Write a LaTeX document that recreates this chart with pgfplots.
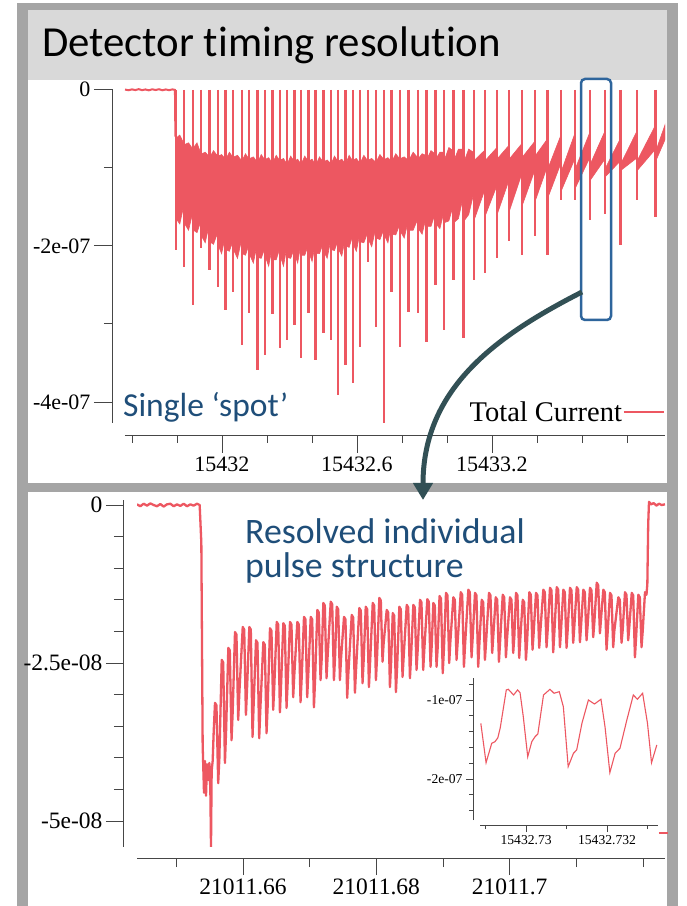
\documentclass[border=0pt]{standalone}
\usepackage{pgfplots}
\pgfplotsset{compat=1.18}
\usepackage{fontspec}
\setmainfont{Liberation Serif}
\newfontfamily\timesf{Liberation Serif}
\newfontfamily\calib[Ligatures=NoCommon]{Carlito}
\usetikzlibrary{arrows.meta}
\definecolor{myred}{RGB}{237,87,97}
\definecolor{tblue}{RGB}{31,78,121}
\definecolor{rblue}{RGB}{46,101,156}
\definecolor{arrowc}{RGB}{50,80,85}
\definecolor{framegray}{RGB}{165,165,165}
\definecolor{titlebg}{RGB}{217,217,217}
\definecolor{axisgray}{RGB}{70,70,70}
\pgfplotsset{
  mapleaxis/.style={
    scale only axis, anchor=south west,
    axis lines=left, axis line style={-, draw=axisgray, line width=0.8pt},
    tick align=outside, tick style={axisgray, line width=0.8pt},
    xtick pos=bottom, ytick pos=left,
    /pgf/number format/assume math mode=true,
  }
}
\begin{document}
\begin{tikzpicture}[x=1pt,y=1pt]
\useasboundingbox (0,0) rectangle (687,906);
\fill[white] (0,0) rectangle (687,906);
% frame
\fill[framegray] (17,0) rectangle (28,903);
\fill[framegray] (667,0) rectangle (678,903);
\fill[framegray] (17,896) rectangle (678,903);
\fill[framegray] (17,414) rectangle (678,423);
\fill[titlebg] (28,826) rectangle (667,896);
\node[anchor=base west, inner sep=0pt, font=\calib\fontsize{42.8}{42.8}\selectfont] at (42,849) {Detector timing resolution};

% ---------------- top panel
\begin{axis}[mapleaxis,
  at={(125pt,483pt)}, width=540pt, height=334pt,
  xmin=56.9, xmax=296.9, ymin=-427, ymax=1,
  axis x line shift=12pt, axis y line shift=13pt,
  xtick={100,160,220}, xticklabels={15432,15432.6,15433.2},
  minor xtick={60,80,120,140,180,200,240,260,280},
  ytick={-400,-200,0}, yticklabels={-4e-07,-2e-07,0},
  minor ytick={-300,-100},
  major tick length=18pt, minor tick length=8pt,
  ticklabel style={font=\timesf\fontsize{22}{22}\selectfont},
  legend style={at={(1,0.033)}, anchor=east, draw=none, fill=none, inner sep=0pt,
    nodes={inner sep=1pt}, font=\timesf\fontsize{28.5}{28.5}\selectfont},
  legend plot pos=right, legend cell align=right,
  legend image code/.code={\draw[myred, line width=1.8pt] (0pt,0pt) -- (40pt,0pt);},
]
\addplot[myred, line width=2pt, forget plot] coordinates {
(56.9,0.3) (58.5,-0.6) (60,0.5) (61.5,-0.4) (63,0.8) (64.5,-0.5) (66,0.4) (67.5,-0.7)
(69,0.6) (70.5,-0.3) (72,0.7) (73.5,-0.6) (75,0.4) (76.5,-0.5) (78,0.5) (79.1,-0.2) (79.3,-60)
};
\addplot[fill=myred, draw=myred, line width=0.6pt] coordinates {
(79.6,-62) (81.25,-58) (82.9,-68) (83.5,-70) (85.15,-68) (86.8,-75) (87.4,-74) (88.9,-68) (90.4,-80)
(91.0,-82) (92.55,-80) (94.1,-85) (94.7,-86) (96.25,-78) (97.8,-84) (98.4,-85) (99.85,-83) (101.3,-88)
(101.9,-88) (103.3,-80) (104.7,-86) (105.3,-86) (106.9,-84) (108.5,-90) (109.1,-90) (110.45,-82) (111.8,-88)
(112.4,-88) (113.95,-86) (115.5,-92) (116.1,-92) (117.45,-83) (118.8,-89) (119.4,-89) (120.75,-87) (122.1,-93)
(122.7,-93) (124.1,-84) (125.5,-90) (126.1,-90) (127.35,-88) (128.6,-94) (129.2,-94) (130.55,-85) (131.9,-91)
(132.5,-91) (133.65,-89) (134.8,-94) (135.4,-94) (136.8,-85) (138.2,-91) (138.8,-91) (140.05,-89) (141.3,-95)
(141.9,-95) (143.35,-86) (144.8,-92) (145.4,-92) (146.75,-90) (148.1,-94) (148.7,-94) (150.0,-85) (151.3,-91)
(151.9,-91) (153.25,-89) (154.6,-94) (155.2,-94) (156.5,-84) (157.8,-90) (158.4,-90) (159.7,-88) (161.0,-93)
(161.6,-93) (163.05,-84) (164.5,-90) (165.1,-90) (166.55,-88) (168.0,-92) (168.6,-92) (170.2,-83) (171.8,-89)
(172.4,-89) (173.75,-87) (175.1,-91) (175.7,-91) (177.25,-82) (178.8,-88) (179.4,-88) (181.0,-86) (182.6,-90)
(183.2,-90) (184.95,-80) (186.7,-86) (187.3,-88) (188.95,-82) (190.6,-84) (191.2,-88) (192.9,-78) (194.6,-82)
(195.2,-88) (196.85,-80) (198.5,-80) (199.1,-88) (200.85,-74) (202.6,-78) (203.2,-90) (205.1,-76) (207.0,-76)
(207.6,-92) (209.65,-76) (211.7,-80) (212.3,-90) (216.6,-78) (217.2,-90) (221.9,-75) (222.5,-88) (227.3,-72)
(227.9,-88) (233.0,-70) (233.6,-86) (238.8,-67) (239.4,-84) (244.4,-64) (245.0,-100) (250.4,-60)
(251.0,-103) (256.6,-58) (257.2,-100) (263.3,-56) (263.9,-94) (269.9,-55) (270.5,-100) (276.8,-64)
(277.4,-94) (284.1,-55) (284.7,-90) (292.4,-47) (293.0,-77) (296.9,-45)
(296.9,-64) (293.0,-90) (292.4,-77) (284.7,-103) (284.1,-88) (277.4,-103) (276.8,-92) (270.5,-111)
(269.9,-90) (263.9,-115) (263.3,-88) (257.2,-125) (256.6,-90) (251.0,-128) (250.4,-96) (245.0,-137)
(244.4,-100) (239.4,-141) (238.8,-105) (233.6,-147) (233.0,-110) (227.9,-154) (227.3,-118) (222.5,-158)
(221.9,-125) (217.2,-160) (216.6,-130) (212.3,-165)
(211.7,-135) (209.65,-160) (207.6,-168) (207.0,-140) (205.1,-165) (203.2,-170)
(202.6,-150) (200.85,-168) (199.1,-170) (198.5,-158) (196.85,-178) (195.2,-172)
(194.6,-160) (192.9,-175) (191.2,-175) (190.6,-165) (188.95,-185) (187.3,-178)
(186.7,-168) (184.95,-180) (183.2,-180) (182.6,-170) (181.0,-190) (179.4,-182)
(178.8,-174) (177.25,-186) (175.7,-185) (175.1,-176) (173.75,-196) (172.4,-188)
(171.8,-180) (170.2,-192) (168.6,-190) (168.0,-182) (166.55,-201) (165.1,-192)
(164.5,-185) (163.05,-196) (161.6,-195) (161.0,-188) (159.7,-207) (158.4,-198)
(157.8,-190) (156.5,-202) (155.2,-200) (154.6,-193) (153.25,-213) (151.9,-205)
(151.3,-195) (150.0,-206) (148.7,-205) (148.1,-196) (146.75,-216) (145.4,-208)
(144.8,-198) (143.35,-210) (141.9,-210) (141.3,-200) (140.05,-220) (138.8,-210)
(138.2,-200) (136.8,-212) (135.4,-212) (134.8,-202) (133.65,-222) (132.5,-212)
(131.9,-205) (130.55,-216) (129.2,-215) (128.6,-205) (127.35,-226) (126.1,-215)
(125.5,-205) (124.1,-218) (122.7,-218) (122.1,-205) (120.75,-226) (119.4,-215)
(118.8,-205) (117.45,-216) (116.1,-215) (115.5,-200) (113.95,-222) (112.4,-212)
(111.8,-200) (110.45,-212) (109.1,-210) (108.5,-195) (106.9,-216) (105.3,-206)
(104.7,-195) (103.3,-207) (101.9,-205) (101.3,-190) (99.85,-210) (98.4,-200)
(97.8,-185) (96.25,-198) (94.7,-195) (94.1,-176) (92.55,-196) (91.0,-188)
(90.4,-170) (88.9,-183) (87.4,-180) (86.8,-160) (85.15,-180) (83.5,-172)
(82.9,-150) (81.25,-172) (79.6,-165)
} --cycle;
\addlegendentry{Total Current}
\addplot[draw=none, mark=none, forget plot,
  error bars/.cd, y dir=minus, y explicit, error mark=none,
  error bar style={draw=myred, line width=2.3pt}]
  table[x=x, y=y, y error minus=e] {
x y e
79.5 0 205.0
83.2 0 226.5
87.1 0 275.6
90.7 0 202.6
94.4 0 230.8
98.1 0 252.6
101.6 0 282.1
105.0 0 259.0
108.8 0 326.9
112.1 0 285.9
115.8 0 359.0
119.1 0 339.7
122.4 0 287.2
125.8 0 330.8
128.9 0 320.5
132.2 0 301.3
135.1 0 343.6
138.5 0 285.9
141.6 0 346.9
145.1 0 311.5
148.4 0 320.5
151.6 0 391.0
154.9 0 352.6
158.1 0 375.6
161.3 0 329.5
164.8 0 220.5
168.3 0 303.8
172.1 0 426.5
175.4 0 259.0
179.1 0 329.5
182.9 0 284.6
187.0 0 285.9
190.9 0 323.1
194.9 0 250.0
198.8 0 307.7
202.9 0 243.6
207.3 0 317.9
212.0 0 243.6
216.9 0 234.6
222.2 0 215.4
227.6 0 193.6
233.3 0 211.5
239.1 0 187.2
244.7 0 211.5
250.7 0 141.0
256.9 0 141.0
263.6 0 166.7
270.2 0 159.0
277.1 0 198.7
284.4 0 141.0
292.7 0 162.8
};
\end{axis}

% ---------------- bottom panel
\begin{axis}[mapleaxis,
  at={(137pt,59pt)}, width=528pt, height=347pt,
  xmin=644.1, xmax=723.3, ymin=-54.1, ymax=0.79,
  axis x line shift=11pt, axis y line shift=14pt,
  xtick={660,680,700}, xticklabels={21011.66,21011.68,21011.7},
  minor xtick={650,670,690,710,720},
  ytick={-50,-25,0}, yticklabels={-5e-08,-2.5e-08,0},
  minor ytick={-45,-40,-35,-30,-20,-15,-10,-5},
  major tick length=17pt, minor tick length=9pt,
  ticklabel style={font=\timesf\fontsize{23.5}{23.5}\selectfont},
]
\addplot[myred, line width=2.3pt, line join=round] table {
644.1 0.1
644.6 -0.2
645.1 0.2
645.6 -0.1
646.1 0.25
646.6 0.0
647.1 -0.2
647.6 0.15
648.1 -0.25
648.6 0.1
649.1 0.2
649.6 -0.2
650.1 0.1
650.6 -0.15
651.1 0.2
651.6 -0.2
652.1 0.1
652.6 -0.1
653.1 0.2
653.5 0.0
653.75 -6.0
653.95 -38.0
654.15 -45.5
654.3 -40.5
654.45 -46.0
654.6 -41.0
654.8 -43.5
654.95 -40.8
655.1 -45.0
655.2 -54.1
655.3 -42.0
655.45 -40.5
655.6 -36.0
655.80 -31.3
656.02 -31.7
656.28 -44.0
656.45 -40.2
656.81 -24.5
657.03 -24.9
657.29 -40.8
657.46 -35.9
657.80 -22.6
658.02 -23.0
658.28 -37.2
658.45 -32.8
658.80 -20.1
659.02 -20.5
659.28 -34.0
659.45 -29.8
659.96 -19.3
660.18 -19.7
660.44 -33.2
660.61 -29.0
660.95 -19.3
661.17 -19.7
661.43 -36.7
661.60 -31.5
661.95 -21.4
662.17 -21.8
662.43 -36.9
662.60 -32.3
663.05 -21.7
663.27 -22.1
663.53 -36.1
663.70 -31.8
664.05 -19.5
664.27 -19.9
664.53 -32.4
664.70 -28.5
665.06 -18.5
665.28 -18.9
665.54 -32.8
665.71 -28.5
666.05 -18.7
666.27 -19.1
666.53 -32.1
666.70 -28.1
667.05 -18.5
667.27 -18.9
667.53 -30.4
667.70 -26.8
668.15 -18.5
668.37 -18.9
668.63 -31.2
668.80 -27.4
669.15 -17.7
669.37 -18.1
669.63 -30.4
669.80 -26.6
670.16 -17.7
670.38 -18.1
670.64 -32.0
670.81 -27.7
671.15 -16.6
671.37 -17.0
671.63 -27.7
671.80 -24.4
672.05 -15.5
672.27 -15.9
672.53 -27.4
672.70 -23.8
673.16 -15.3
673.38 -15.7
673.64 -27.7
673.81 -24.0
674.06 -16.1
674.28 -16.5
674.54 -27.7
674.71 -24.2
675.15 -17.7
675.37 -18.1
675.63 -30.5
675.80 -26.7
676.31 -17.4
676.53 -17.8
676.79 -29.7
676.96 -26.0
677.45 -16.3
677.67 -16.7
677.93 -28.2
678.10 -24.6
678.41 -16.1
678.63 -16.5
678.89 -28.8
679.06 -25.0
679.46 -15.5
679.68 -15.9
679.94 -27.7
680.11 -24.0
680.45 -14.7
680.67 -15.1
680.93 -24.8
681.10 -21.8
681.56 -16.6
681.78 -17.0
682.04 -28.8
682.21 -25.1
682.46 -17.1
682.68 -17.5
682.94 -29.6
683.11 -25.9
683.45 -16.1
683.67 -16.5
683.93 -27.2
684.10 -24.0
684.56 -15.8
684.78 -16.2
685.04 -27.4
685.21 -24.0
685.55 -15.8
685.77 -16.2
686.03 -26.1
686.20 -23.0
686.55 -15.0
686.77 -15.4
687.03 -26.1
687.20 -22.8
687.65 -14.9
687.87 -15.3
688.13 -25.6
688.30 -22.4
688.55 -15.5
688.77 -15.9
689.03 -25.6
689.20 -22.6
689.48 -14.4
689.70 -14.8
689.96 -26.6
690.13 -23.0
690.45 -13.9
690.67 -14.3
690.93 -25.0
691.10 -21.7
691.55 -14.6
691.77 -15.0
692.03 -24.5
692.20 -21.7
692.66 -13.8
692.88 -14.2
693.14 -25.6
693.31 -22.1
693.80 -13.4
694.02 -13.8
694.28 -24.1
694.45 -21.0
694.80 -13.9
695.02 -14.3
695.28 -25.6
695.45 -22.1
695.81 -15.0
696.03 -15.4
696.29 -24.5
696.46 -21.7
696.90 -13.9
697.12 -14.3
697.38 -23.4
697.55 -20.6
697.91 -14.6
698.13 -15.0
698.39 -24.8
698.56 -21.7
698.96 -14.2
699.18 -14.6
699.44 -24.1
699.61 -21.1
700.05 -14.6
700.27 -15.0
700.53 -23.4
700.70 -20.8
700.95 -13.9
701.17 -14.3
701.43 -24.2
701.60 -21.1
701.96 -15.0
702.18 -15.4
702.44 -24.5
702.61 -21.7
702.95 -13.8
703.17 -14.2
703.43 -22.9
703.60 -20.2
703.95 -13.9
704.17 -14.3
704.43 -22.6
704.60 -20.0
705.05 -13.4
705.27 -13.8
705.53 -22.5
705.70 -19.8
706.05 -13.1
706.27 -13.5
706.53 -23.3
706.70 -20.2
707.06 -13.0
707.28 -13.4
707.54 -22.5
707.71 -19.7
708.05 -13.4
708.27 -13.8
708.53 -22.6
708.70 -19.8
709.05 -13.1
709.27 -13.5
709.53 -21.8
709.70 -19.2
710.06 -13.0
710.28 -13.4
710.54 -21.7
710.71 -19.1
711.05 -13.4
711.27 -13.8
711.53 -21.4
711.70 -19.0
712.05 -13.1
712.27 -13.5
712.53 -20.9
712.70 -18.6
713.06 -12.3
713.28 -12.7
713.54 -20.3
713.71 -17.9
714.05 -13.4
714.27 -13.8
714.53 -22.9
714.70 -20.1
715.05 -13.9
715.27 -14.3
715.53 -22.5
715.70 -19.9
716.30 -14.6
716.52 -15.0
716.78 -21.8
716.95 -19.8
717.30 -13.8
717.52 -14.2
717.78 -21.4
717.95 -19.2
718.31 -13.9
718.53 -14.3
718.79 -24.1
718.96 -21.0
719.30 -14.2
719.52 -14.6
719.78 -22.5
719.95 -20.0
720.30 -13.8
720.52 -14.2
720.65 -12.5
720.78 -3.0
720.90 0.5
721.2 0.1
721.6 0.3
722.0 -0.1
722.4 0.2
722.8 0.0
723.3 0.1
};
\end{axis}

% ---------------- inset
\begin{axis}[mapleaxis,
  at={(480pt,86pt)}, width=178pt, height=142pt,
  xmin=88.6, xmax=132.6, ymin=-251.9, ymax=-72.2,
  axis x line shift=5pt, axis y line shift=7pt,
  xtick={100,120}, xticklabels={15432.73,15432.732},
  minor xtick={90,110,130},
  ytick={-200,-100}, yticklabels={-2e-07,-1e-07},
  minor ytick={-240,-220,-180,-160,-140,-120,-80},
  major tick length=7pt, minor tick length=4pt,
  axis line style={line width=0.6pt}, tick style={line width=0.6pt},
  ticklabel style={font=\timesf\fontsize{13.6}{13.6}\selectfont},
  legend style={at={(1,-0.092)}, anchor=west, draw=none, fill=none, inner sep=0pt,
    nodes={inner sep=0pt}},
  legend image code/.code={\draw[myred, line width=1.5pt] (0pt,0pt) -- (9pt,0pt);},
]
\addplot[myred, line width=1.1pt] table {
88.8 -129.5
90.1 -179.4
91.5 -154.8
92.3 -152.8
93.0 -148.0
93.6 -135.4
95.1 -87.3
95.6 -86.5
96.9 -93.7
97.9 -87.3
98.5 -90.8
99.3 -121.1
100.4 -171.8
101.4 -152.8
102.2 -146.5
102.9 -143.0
104.3 -93.7
105.9 -86.5
106.9 -91.5
108.2 -89.5
109.2 -108.5
110.0 -159.1
110.4 -184.4
111.7 -167.5
112.5 -163.3
113.8 -129.5
115.4 -100.0
116.9 -105.1
118.5 -99.1
119.5 -133.8
120.7 -192.0
122.0 -167.5
123.2 -161.1
124.9 -125.3
126.5 -93.7
127.5 -99.1
128.8 -91.5
130.0 -129.5
131.0 -179.4
132.3 -157.0
};
\addlegendentry{}
\end{axis}

% annotations
\node[anchor=base west, inner sep=0pt, text=tblue, font=\calib\fontsize{33.5}{33.5}\selectfont] at (123,489) {Single ‘spot’};
\node[anchor=base west, inner sep=0pt, text=tblue, font=\calib\fontsize{35.8}{35.8}\selectfont] at (245,362) {Resolved individual};
\node[anchor=base west, inner sep=0pt, text=tblue, font=\calib\fontsize{35.8}{35.8}\selectfont] at (245,328) {pulse structure};
\draw[rblue, line width=2.5pt, rounded corners=4pt] (581,827) rectangle (611,586);
\draw[arrowc, line width=5pt, -{Triangle[length=17pt,width=19pt]}] (582,614) .. controls (500,572) and (423,520) .. (423,406);
\end{tikzpicture}
\end{document}
